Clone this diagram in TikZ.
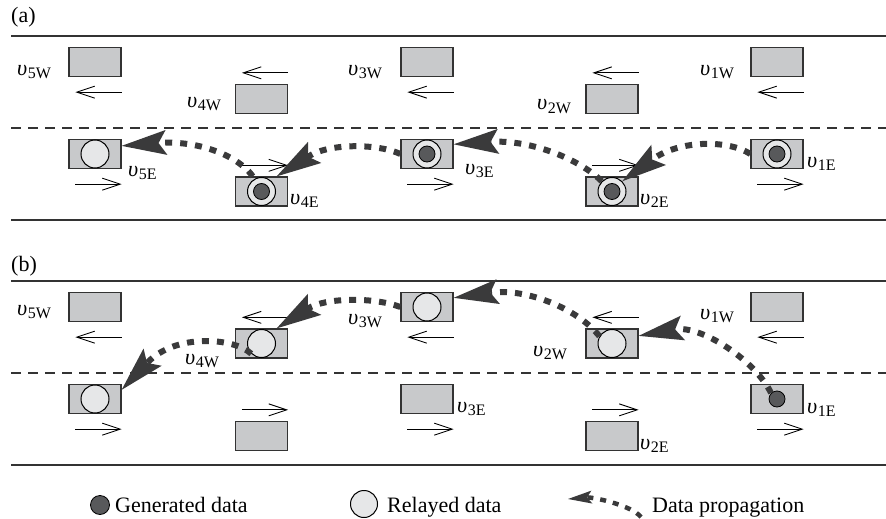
\documentclass[tikz,border=0pt]{standalone}
\usepackage{fontspec}
\setmainfont{Liberation Serif}
\usetikzlibrary{arrows.meta,calc}
\definecolor{carfill}{HTML}{C8C9CB}
\definecolor{ink}{HTML}{333333}
\definecolor{relayfill}{HTML}{E6E7E8}
\definecolor{genfill}{HTML}{58595B}
\definecolor{propcol}{HTML}{3A3A3B}
% vehicle label: italic upsilon with an upright, lowered index
\newcommand{\veh}[1]{\textit{υ}\kern0.5pt{\fontsize{16}{16}\selectfont\raisebox{-3pt}{#1}}}
\begin{document}
\begin{tikzpicture}[x=1pt,y=-1pt,
  every node/.style={font=\fontsize{22}{24}\selectfont, inner sep=0pt},
  car/.style={rectangle, draw=ink, fill=carfill, line width=1.3pt,
    minimum width=52pt, minimum height=29pt},
  relay/.style={circle, draw=black, fill=relayfill, line width=1pt, minimum size=28pt},
  gen/.style={circle, draw=black, fill=genfill, line width=0.8pt, minimum size=16pt},
  vlab/.style={anchor=base west},
  lanearrow/.style={draw=black, line width=0.9pt, -{Straight Barb[length=18pt,width=12pt]}},
  road/.style={draw=ink, line width=2.4pt},
  median/.style={draw=ink, line width=1.8pt, dash pattern=on 10pt off 7pt},
  prop/.style={draw=propcol, line width=6pt, dash pattern=on 7pt off 8pt,
    -{Stealth[length=45pt,width=25pt,inset=8pt,line width=0pt,fill=propcol]}},
  propkey/.style={draw=propcol, line width=4.5pt, dash pattern=on 6pt off 7pt,
    -{Stealth[length=24pt,width=13pt,inset=5pt,line width=0pt,fill=propcol]}},
]
\useasboundingbox (0,0) rectangle (886,519);

% ---------------- panel (a) ----------------
\node[anchor=base west] (ta) at (11,23) {(a)};
\draw[road] (11,36) -- (886,36);
\draw[median] (11,128) -- (886,128);
\draw[road] (11,220) -- (886,220);

% westbound cars
\node[car] (a5W) at (95,62) {};
\node[car] (a4W) at (261.5,99) {};
\node[car] (a3W) at (427,62) {};
\node[car] (a2W) at (612,99) {};
\node[car] (a1W) at (777,62) {};
% eastbound cars
\node[car] (a5E) at (95,154) {};
\node[car] (a4E) at (261.5,191.5) {};
\node[car] (a3E) at (427,154) {};
\node[car] (a2E) at (612,191.5) {};
\node[car] (a1E) at (777,154) {};

% driving directions
\foreach \c in {a5W,a3W,a1W}
  \draw[lanearrow] ($(\c.south east)+(0,15)$) -- ($(\c.south west)+(7,15)$);
\foreach \c in {a4W,a2W}
  \draw[lanearrow] ($(\c.north east)+(0,-11)$) -- ($(\c.north west)+(7,-11)$);
\foreach \c in {a5E,a3E,a1E}
  \draw[lanearrow] ($(\c.south west)+(7,15)$) -- ($(\c.south east)+(0,15)$);
\foreach \c in {a4E,a2E}
  \draw[lanearrow] ($(\c.north west)+(7,-11)$) -- ($(\c.north east)+(0,-11)$);

% data held by the cars
\node[relay] (ra5E) at (a5E) {};
\foreach \c in {a4E,a3E,a2E,a1E}{
  \node[relay] (r\c) at (\c) {};
  \node[gen] (g\c) at (\c) {};
}

% labels
\node[vlab] (la5W) at (17,75) {\veh{5W}};
\node[vlab] (la4W) at (187,107) {\veh{4W}};
\node[vlab] (la3W) at (348,75) {\veh{3W}};
\node[vlab] (la2W) at (537,110) {\veh{2W}};
\node[vlab] (la1W) at (700,75) {\veh{1W}};
\node[vlab] (la5E) at (128,176) {\veh{5E}};
\node[vlab] (la4E) at (290,204) {\veh{4E}};
\node[vlab] (la3E) at (465,174) {\veh{3E}};
\node[vlab] (la2E) at (640,204) {\veh{2E}};
\node[vlab] (la1E) at (807,167) {\veh{1E}};

% propagation along the eastbound lane
\draw[prop] (a1E.west) .. controls +(-21,-14) and +(58,-42) .. (ra2E.45);
\draw[prop] (ra2E.135) .. controls +(-22,-22) and +(77,-5) .. (a3E.20);
\draw[prop] (a3E.west) .. controls +(-21,-10) and +(54,-34) .. (a4E.45);
\draw[prop] (a4E.120) .. controls +(-13,-19) and +(79,-6) .. (a5E.17);

% ---------------- panel (b) ----------------
\node[anchor=base west] (tb) at (11,271) {(b)};
\draw[road] (11,281) -- (886,281);
\draw[median] (11,373) -- (886,373);
\draw[road] (11,465) -- (886,465);

\node[car] (b5W) at (95,307) {};
\node[car] (b4W) at (261.5,343.5) {};
\node[car] (b3W) at (427,307) {};
\node[car] (b2W) at (612,343.5) {};
\node[car] (b1W) at (777,307) {};
\node[car] (b5E) at (95,399) {};
\node[car] (b4E) at (261.5,436) {};
\node[car] (b3E) at (427,399) {};
\node[car] (b2E) at (612,436) {};
\node[car] (b1E) at (777,399) {};

\foreach \c in {b5W,b3W,b1W}
  \draw[lanearrow] ($(\c.south east)+(0,15)$) -- ($(\c.south west)+(7,15)$);
\foreach \c in {b4W,b2W}
  \draw[lanearrow] ($(\c.north east)+(0,-11)$) -- ($(\c.north west)+(7,-11)$);
\foreach \c in {b5E,b3E,b1E}
  \draw[lanearrow] ($(\c.south west)+(7,15)$) -- ($(\c.south east)+(0,15)$);
\foreach \c in {b4E,b2E}
  \draw[lanearrow] ($(\c.north west)+(7,-11)$) -- ($(\c.north east)+(0,-11)$);

\foreach \c in {b5E,b4W,b3W,b2W}
  \node[relay] (r\c) at (\c) {};
\node[gen] (gb1E) at (b1E) {};

\node[vlab] (lb5W) at (17,315) {\veh{5W}};
\node[vlab] (lb4W) at (185,364) {\veh{4W}};
\node[vlab] (lb3W) at (348,324) {\veh{3W}};
\node[vlab] (lb2W) at (533,356) {\veh{2W}};
\node[vlab] (lb1W) at (700,319) {\veh{1W}};
\node[vlab] (lb3E) at (457,412) {\veh{3E}};
\node[vlab] (lb2E) at (640,449) {\veh{2E}};
\node[vlab] (lb1E) at (807,413) {\veh{1E}};

% propagation through the westbound lane
\draw[prop] (gb1E.north west) .. controls +(-16,-33) and +(62,-11) .. (b2W.16);
\draw[prop] (rb2W.150) .. controls +(-22,-28) and +(72,-10) .. (b3W.19);
\draw[prop] (b3W.west) .. controls +(-26,-10) and +(49,-31) .. (b4W.45);
\draw[prop] (rb4W.south west) .. controls +(-17,-16) and +(54,-57) .. (b5E.19);

% ---------------- legend ----------------
\node[gen, minimum size=19pt] (kgen) at (100,505) {};
\node[anchor=base west] (kgent) at (115,512) {Generated data};
\node[relay, minimum size=27pt] (krel) at (364,504) {};
\node[anchor=base west] (krelt) at (387,512) {Relayed data};
\coordinate (kpa) at (641,517);
\coordinate (kpb) at (568,499);
\draw[propkey] (kpa) .. controls +(-10,-12) and +(25,-2) .. (kpb);
\node[anchor=base west] (kpt) at (652,512) {Data propagation};
\end{tikzpicture}
\end{document}
